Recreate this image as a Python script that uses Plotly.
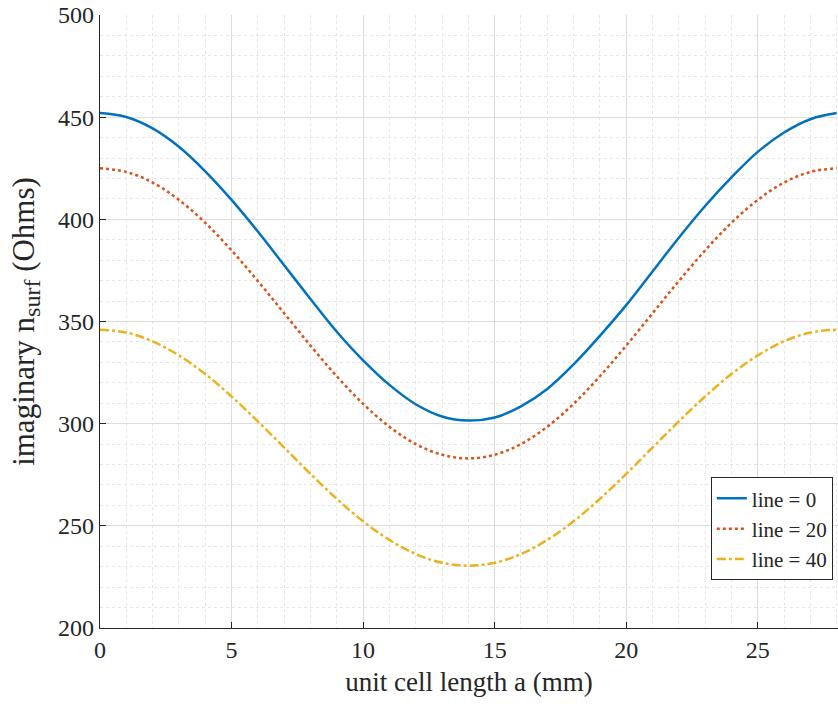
import plotly.graph_objects as go

# unit cell length a (mm)
a_mm = list(range(0, 29))

line_0 = [452, 450.1, 444.5, 435.5, 423.5, 409.5, 394, 377.5, 361, 345, 331, 319, 309.5, 303.5, 301.5,
          303, 308.5, 317, 329, 343, 358, 374.5, 391, 406.5, 420.5, 433, 442.5, 449, 452]
line_20 = [425, 423.2, 418, 409.5, 398.3, 384.8, 369.8, 354, 338.2, 323.2, 309.7, 298.5, 290, 284.8, 283,
           284.8, 290, 298.5, 309.7, 323.2, 338.2, 354, 369.8, 384.8, 398.3, 409.5, 418, 423.2, 425]
line_40 = [346, 344.6, 340.3, 333.4, 324.3, 313.3, 301.1, 288.3, 275.4, 263.2, 252.2, 243.1, 236.2, 231.9, 230.5,
           231.9, 236.2, 243.1, 252.2, 263.2, 275.4, 288.3, 301.1, 313.3, 324.3, 333.4, 340.3, 344.6, 346]

series_names = ["line = 0", "line = 20", "line = 40"]
series_values = [line_0, line_20, line_40]
colors = ["#0072BD", "#D95319", "#EDB120"]
dashes = ["solid", "dot", "dashdot"]

FONT = "Liberation Serif, Times New Roman, serif"

fig = go.Figure()
for name, vals, col, dash in zip(series_names, series_values, colors, dashes):
    fig.add_trace(go.Scatter(x=a_mm, y=vals, mode="lines", name=name,
                             line=dict(color=col, width=2.5, dash=dash, shape="spline")))

fig.update_layout(
    width=838, height=704,
    margin=dict(l=100, r=0, t=15, b=76),
    plot_bgcolor="white", paper_bgcolor="white",
    font=dict(family=FONT, size=24, color="#262626"),
    showlegend=True,
    legend=dict(x=0.993, y=0.078, xanchor="right", yanchor="bottom",
                bgcolor="white", bordercolor="#262626", borderwidth=1,
                font=dict(family=FONT, size=21, color="#262626"),
                tracegroupgap=0, itemwidth=30),
)

fig.update_xaxes(
    range=[0, 28.05], tickmode="array", tickvals=[0, 5, 10, 15, 20, 25],
    ticks="inside", ticklen=6, tickcolor="#262626",
    showline=True, linecolor="#262626", linewidth=1.2,
    showgrid=True, gridcolor="#dcdcdc", gridwidth=1,
    minor=dict(dtick=1, showgrid=True, gridcolor="#e6e6e6", griddash="dot", gridwidth=1),
    zeroline=False,
    title=dict(text="unit cell length a (mm)", font=dict(family=FONT, size=27, color="#262626"), standoff=10),
    tickfont=dict(family=FONT, size=24, color="#262626"),
)
fig.update_yaxes(
    range=[200, 500], tickmode="array", tickvals=[200, 250, 300, 350, 400, 450, 500],
    ticks="inside", ticklen=6, tickcolor="#262626",
    showline=True, linecolor="#262626", linewidth=1.2,
    showgrid=True, gridcolor="#dcdcdc", gridwidth=1,
    minor=dict(dtick=10, showgrid=True, gridcolor="#e6e6e6", griddash="dot", gridwidth=1),
    zeroline=False,
    title=dict(text="imaginary n<sub><span style=\"font-size:24px\">surf</span></sub> (Ohms)",
               font=dict(family=FONT, size=31, color="#262626"), standoff=14),
    tickfont=dict(family=FONT, size=24, color="#262626"),
)

fig.write_html("out.html")
